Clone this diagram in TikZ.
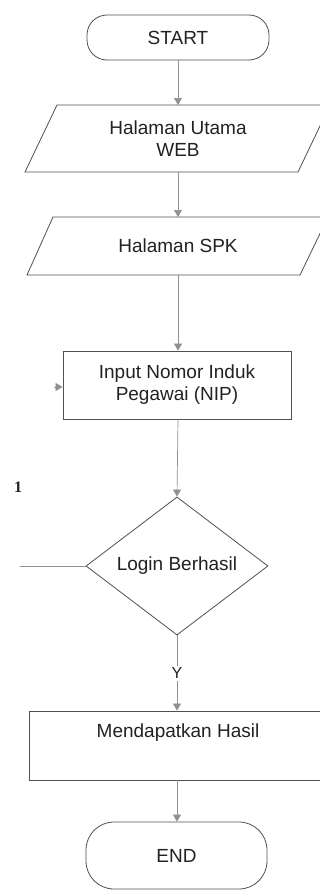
\documentclass[tikz,border=0pt]{standalone}
\usepackage{fontspec}
\setmainfont{Liberation Sans}
\newfontfamily\serifbold{Liberation Serif}
\usetikzlibrary{arrows.meta,shapes.geometric}
\definecolor{edgec}{HTML}{505050}
\definecolor{connc}{HTML}{909090}
\definecolor{txtc}{HTML}{222222}
\begin{document}
\begin{tikzpicture}[x=1pt,y=-1pt,
  shapeline/.style={draw=edgec, line width=0.8pt},
  lbl/.style={text=txtc, font=\fontsize{19}{22}\selectfont, align=center, inner sep=0pt},
  term/.style={shapeline, rectangle, lbl, minimum width=182pt},
  procbox/.style={shapeline, rectangle, lbl},
  decision/.style={shapeline, diamond, lbl, inner sep=0pt, minimum width=182pt, minimum height=134pt},
  conn/.style={draw=connc, line width=0.7pt},
  arr/.style={conn, -{Triangle[length=7pt,width=8pt,fill=connc]}}
]
\useasboundingbox (0,0) rectangle (320,891);
\clip (0,0) rectangle (320,891);
\fill[white] (0,0) rectangle (320,891);

% START
\node[term, minimum height=45pt, rounded corners=20pt] (start) at (178,37.5) {START};

% Parallelogram 1
\draw[shapeline] (57,105) -- (330,105) -- (298,172) -- (25,172) -- cycle;
\node[lbl] (p1) at (178,139) {Halaman Utama\\WEB};
\coordinate (p1n) at (178,105);
\coordinate (p1s) at (178,172);

% Parallelogram 2
\draw[shapeline] (53,217) -- (328,217) -- (300,275) -- (27,275) -- cycle;
\node[lbl] (p2) at (178,246) {Halaman SPK};
\coordinate (p2n) at (178,217);
\coordinate (p2s) at (178,275);

% Input NIP
\node[procbox, minimum width=228pt, minimum height=68pt] (nip) at (177,385) {Input Nomor Induk\\Pegawai (NIP)};
\coordinate (nipin) at (54,387);

% Decision
\node[decision] (dia) at (177,566) {Login Berhasil};
\coordinate (dial) at (20,566);
\node[text=txtc, font=\serifbold\bfseries\fontsize{16}{18}\selectfont, inner sep=0pt] (one) at (18,487) {1};

% Result
\node[shapeline, rectangle, minimum width=301pt, minimum height=69pt] (hasil) at (179.5,745.5) {};
\node[lbl] (hasiltxt) at (178,733) {Mendapatkan Hasil};

% END
\node[term, minimum width=181pt, minimum height=67pt, rounded corners=28pt] (end) at (176.5,855.5) {END};

% Connectors
\draw[arr] (start.south) -- (p1n);
\draw[arr] (p1s) -- (p2n);
\draw[arr] (p2s) -- (p2s |- nip.north);
\draw[arr] (nip.south -| p2s) -- (dia.north);
\draw[arr] (nipin) -- (nipin -| nip.west);
\draw[conn] (dia.west) -- (dial);
\draw[arr] (dia.south) -- node[fill=white, lbl, font=\fontsize{16}{18}\selectfont, inner sep=2pt] (y) {Y} (dia.south |- hasil.north);
\draw[arr] (dia.south |- hasil.south) -- (dia.south |- end.north);
\end{tikzpicture}
\end{document}
